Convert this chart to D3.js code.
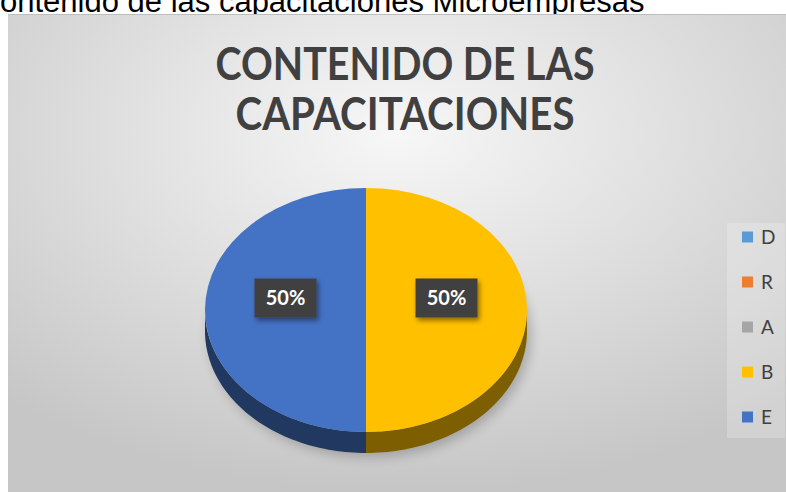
<!DOCTYPE html>
<html lang="es">
    <head>
        <meta charset="utf-8"/>
        <script src="https://d3js.org/d3.v7.min.js"></script>
        <style>
            body { margin: 0; background: #fff; }
        </style>
    </head>
    <body>
        <div id="chart"></div>
    </body>
    <script>
        // datos del grafico
        var categories = ["D", "R", "A", "B", "E"];
        var values = [0, 0, 0, 1, 1];
        var colors = ["#5b9bd5", "#ed7d31", "#a5a5a5", "#ffc000", "#4472c4"];
        var title = ["CONTENIDO DE LAS", "CAPACITACIONES"];
        var caption = "Contenido de las capacitaciones Microempresas";

        var W = 786, H = 492;
        var svg = d3.select("#chart")
            .append("svg")
                .attr("width", W)
                .attr("height", H);

        var defs = svg.append("defs");
        var grad = defs.append("radialGradient")
            .attr("id", "bg")
            .attr("cx", "50%").attr("cy", "25%").attr("r", "75%");
        grad.append("stop").attr("offset", "0%").attr("stop-color", "#f7f7f7");
        grad.append("stop").attr("offset", "100%").attr("stop-color", "#c6c6c6");

        var blur = defs.append("filter").attr("id", "soft")
            .attr("x", "-30%").attr("y", "-30%").attr("width", "160%").attr("height", "160%");
        blur.append("feGaussianBlur").attr("stdDeviation", 6);

        var shadow = defs.append("filter").attr("id", "drop")
            .attr("x", "-30%").attr("y", "-30%").attr("width", "170%").attr("height", "170%");
        shadow.append("feDropShadow")
            .attr("dx", 2).attr("dy", 3).attr("stdDeviation", 2.5)
            .attr("flood-color", "#000").attr("flood-opacity", 0.45);

        // caption arriba (cortado a la izquierda, el panel tapa las colas)
        var capFont = "'Liberation Sans', Arial, sans-serif";
        var cap = svg.append("text")
            .attr("y", 12)
            .style("font-family", capFont)
            .style("font-size", "31px")
            .attr("fill", "#000")
            .text(caption);
        var tmp = svg.append("text")
            .style("font-family", capFont)
            .style("font-size", "31px")
            .text(caption[0]);
        cap.attr("x", -tmp.node().getComputedTextLength());
        tmp.remove();

        // panel
        svg.append("rect")
            .attr("x", 8).attr("y", 14)
            .attr("width", W - 8).attr("height", H - 14)
            .attr("fill", "url(#bg)");
        svg.append("line")
            .attr("x1", 8).attr("x2", W).attr("y1", 14.5).attr("y2", 14.5)
            .attr("stroke", "#bdbdbd");

        // titulo
        var titleWidths = [379, 339];
        svg.append("g").selectAll("text")
            .data(title)
            .enter()
            .append("text")
            .attr("x", 405)
            .attr("y", function (d, i) { return 80 + i * 50; })
            .attr("text-anchor", "middle")
            .attr("textLength", function (d, i) { return titleWidths[i]; })
            .attr("lengthAdjust", "spacingAndGlyphs")
            .style("font-family", "Lato, 'Open Sans', sans-serif")
            .style("font-weight", "bold")
            .style("font-size", "46px")
            .attr("fill", "#404040")
            .text(function (d) { return d; });

        // pastel 3D
        var cx = 366, cy = 310, rx = 161, ry = 122, depth = 21;

        var pie = d3.pie().sort(null).value(function (d) { return d; });
        var slices = pie(values);
        var arc = d3.arc().innerRadius(0).outerRadius(rx);

        svg.append("ellipse")
            .attr("cx", cx + 4).attr("cy", cy + depth + 4)
            .attr("rx", rx).attr("ry", ry)
            .attr("fill", "#000").attr("opacity", 0.22)
            .attr("filter", "url(#soft)");

        function pt(a, dy) {
            return [cx + rx * Math.sin(a), cy - ry * Math.cos(a) + dy];
        }

        var sides = svg.append("g");
        slices.forEach(function (s, i) {
            var a0 = Math.max(s.startAngle, Math.PI / 2);
            var a1 = Math.min(s.endAngle, 3 * Math.PI / 2);
            if (a1 <= a0) return;
            var steps = 60, pts = [];
            for (var k = 0; k <= steps; k++) pts.push(pt(a0 + (a1 - a0) * k / steps, 0));
            for (var k = steps; k >= 0; k--) pts.push(pt(a0 + (a1 - a0) * k / steps, depth));
            sides.append("path")
                .attr("d", d3.line()(pts) + "Z")
                .attr("fill", d3.color(colors[i]).darker(2));
        });

        var face = svg.append("g")
            .attr("transform", "translate(" + cx + "," + cy + ") scale(1," + (ry / rx) + ")");
        face.selectAll("path")
            .data(slices)
            .enter()
            .append("path")
            .attr("d", arc)
            .attr("fill", function (d, i) { return colors[i]; });

        // etiquetas de datos
        var total = d3.sum(values);
        var labels = svg.append("g");
        slices.forEach(function (s) {
            if (s.value === 0) return;
            var c = arc.centroid(s);
            var lx = cx + c[0], ly = cy + c[1] * (ry / rx) - 12;
            var g = labels.append("g").attr("transform", "translate(" + lx + "," + ly + ")");
            g.append("rect")
                .attr("x", -31).attr("y", -19.5)
                .attr("width", 62).attr("height", 39)
                .attr("fill", "#404040")
                .attr("filter", "url(#drop)");
            g.append("text")
                .attr("text-anchor", "middle")
                .attr("dy", "0.36em")
                .style("font-family", "Lato, 'Open Sans', sans-serif")
                .style("font-weight", "bold")
                .style("font-size", "20px")
                .attr("fill", "#fff")
                .text(d3.format(".0%")(s.value / total));
        });

        // leyenda
        svg.append("rect")
            .attr("x", 727).attr("y", 223)
            .attr("width", 58).attr("height", 215)
            .attr("fill", "#ffffff").attr("opacity", 0.22);

        var legend = svg.append("g").selectAll("g")
            .data(categories)
            .enter()
            .append("g")
            .attr("transform", function (d, i) { return "translate(742," + (237 + i * 45) + ")"; });
        legend.append("rect")
            .attr("x", 0).attr("y", -5.5)
            .attr("width", 11).attr("height", 11)
            .attr("fill", function (d, i) { return colors[i]; });
        legend.append("text")
            .attr("x", 19)
            .attr("dy", "0.36em")
            .style("font-family", "Lato, 'Open Sans', sans-serif")
            .style("font-size", "19px")
            .attr("fill", "#404040")
            .text(function (d) { return d; });
    </script>
</html>
